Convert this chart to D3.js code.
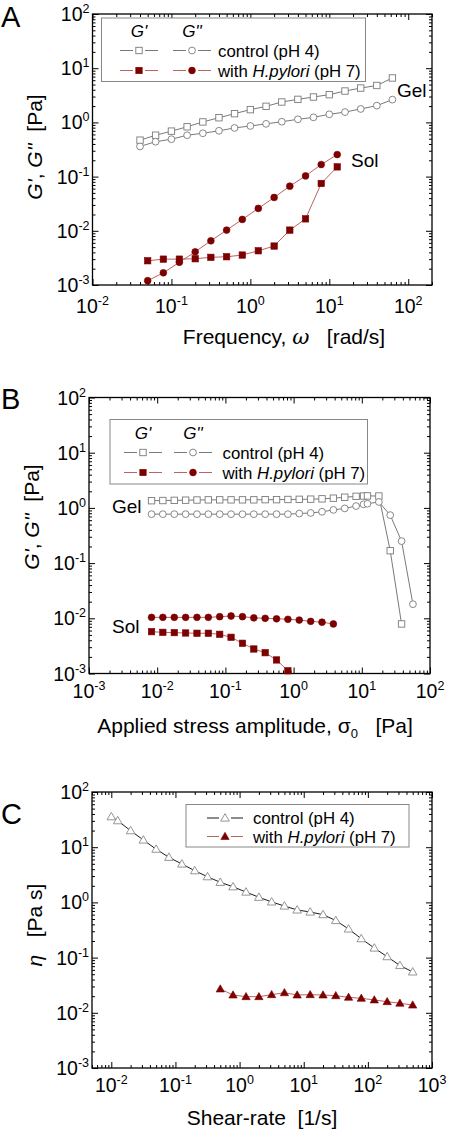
<!DOCTYPE html>
<html><head><meta charset="utf-8">
<script src="https://cdn.jsdelivr.net/npm/d3@7"></script>
<style>body{margin:0;background:#fff;} svg{display:block;font-family:"Liberation Sans",Arial,Helvetica,sans-serif;}</style>
</head><body><svg id="c" width="450" height="1134"></svg>
<script>
// ---------- Panel A data ----------
const A_ctrl_freq = [0.04,0.063,0.1,0.158,0.25,0.4,0.63,1,1.58,2.5,4,6.3,10,15.8,25,40,63];
const A_ctrl_G1 = [0.47,0.58,0.69,0.83,1.02,1.22,1.45,1.72,1.98,2.38,2.66,2.94,3.25,3.79,4.3,4.8,6.6];
const A_ctrl_G2 = [0.36,0.44,0.49,0.58,0.63,0.70,0.79,0.86,0.94,1.03,1.14,1.24,1.41,1.55,1.77,2.04,2.63];
const A_sol_freq = [0.05,0.079,0.126,0.2,0.316,0.5,0.79,1.26,2,3.16,5,7.9,12.6];
const A_sol_G1 = [0.0028,0.0030,0.0030,0.00305,0.00324,0.00332,0.00357,0.00428,0.00523,0.0103,0.0166,0.0747,0.151];
const A_sol_G2 = [0.0012,0.00168,0.00262,0.0041,0.00654,0.0103,0.0162,0.0259,0.0412,0.0666,0.103,0.167,0.255];
// ---------- Panel B data ----------
const B_stress = [0.00826,0.0121,0.0178,0.0261,0.0383,0.0562,0.0825,0.121,0.178,0.261,0.383,0.562,0.825,1.21,1.78,2.61,3.83,5.62,8.25,10.6,12.1,17.8,26.1,38.3,56.2];
const B_ctrl_G1 = [1.35,1.36,1.37,1.38,1.39,1.40,1.40,1.40,1.40,1.40,1.41,1.41,1.42,1.43,1.44,1.46,1.50,1.56,1.62,1.64,1.65,1.64,0.168,0.0079];
const B_ctrl_G2 = [0.77,0.77,0.77,0.77,0.77,0.77,0.77,0.77,0.77,0.77,0.77,0.77,0.77,0.79,0.81,0.85,0.92,0.98,1.08,1.16,1.19,1.28,0.74,0.25,0.018];
const B_sol_G1 = [0.00572,0.00557,0.0055,0.00542,0.00536,0.00536,0.00513,0.00453,0.00353,0.00278,0.00238,0.00176,0.00112];
const B_sol_G2 = [0.0104,0.0104,0.0104,0.0104,0.0104,0.0104,0.0107,0.0110,0.0107,0.0102,0.0100,0.0098,0.0096,0.0093,0.0088,0.0085,0.0079];
// ---------- Panel C data ----------
const C_ctrl_rate = [0.01,0.0126,0.02,0.0316,0.05,0.079,0.126,0.2,0.316,0.5,0.79,1.26,2,3.16,5,7.9,12.6,20,31.6,50,79,126,200,316,500];
const C_ctrl_eta = [35.7,30.2,19.9,13.5,9.2,6.56,4.96,3.75,2.92,2.31,1.92,1.54,1.24,1.02,0.86,0.73,0.67,0.60,0.47,0.33,0.22,0.149,0.104,0.072,0.055];
const C_sol_rate = [0.5,0.79,1.26,2,3.16,5,7.9,12.6,20,31.6,50,79,126,200,316,500];
const C_sol_eta = [0.027,0.021,0.0196,0.0196,0.0213,0.0231,0.021,0.0213,0.021,0.0204,0.0191,0.0183,0.0171,0.0159,0.0149,0.0138];

const legendNames = ["control (pH 4)", "with ", "H.pylori", " (pH 7)"];

const RED = "#7d0000", REDLINE = "#b4504f", GREY = "#7a7a7a", GREYLINE = "#6a6a6a";
const TITLE = 21, TICK = 19.5;
const svg = d3.select("#c");

function decades(dom){
  const out=[]; const lo=Math.floor(Math.log10(dom[0])-1e-9), hi=Math.ceil(Math.log10(dom[1])+1e-9);
  for(let e=lo;e<=hi;e++) for(let m=1;m<10;m++){const v=m*Math.pow(10,e); if(v>=dom[0]*0.9999&&v<=dom[1]*1.0001) out.push({v,m,e});}
  return out;
}

function marker(g, type, cx, cy, filled, col){
  const fill = filled ? col : "#fff";
  if(type==="sq") g.append("rect").attr("x",cx-3.2).attr("y",cy-3.2).attr("width",6.4).attr("height",6.4).attr("fill",fill).attr("stroke",col).attr("stroke-width",filled?0.6:0.9);
  else if(type==="ci") g.append("circle").attr("cx",cx).attr("cy",cy).attr("r",3.4).attr("fill",fill).attr("stroke",col).attr("stroke-width",filled?0.6:0.9);
  else if(type==="tri") g.append("path").attr("d",d3.symbol(d3.symbolTriangle,filled?30:32)()).attr("transform",`translate(${cx},${cy+0.6})`).attr("fill",fill).attr("stroke",col).attr("stroke-width",filled?0.6:0.9);
}

function series(g,x,y,xs,ys,type,filled,col,lineCol){
  const pts = ys.map((v,i)=>[x(xs[i]),y(v)]);
  g.append("path").attr("d",d3.line()(pts)).attr("fill","none").attr("stroke",lineCol).attr("stroke-width",0.9);
  pts.forEach(p=>marker(g,type,p[0],p[1],filled,col));
}

function panel(o){
  const g = svg.append("g");
  const x = d3.scaleLog().domain(o.xDom).range([o.left,o.right]);
  const y = d3.scaleLog().domain([1e-3,1e2]).range([o.bottom,o.top]);
  const xt = decades(o.xDom), yt = decades(y.domain());
  const xMaj = xt.filter(d=>d.m===1).map(d=>d.v), xMin = xt.filter(d=>d.m!==1).map(d=>d.v);
  const yMaj = yt.filter(d=>d.m===1).map(d=>d.v), yMin = yt.filter(d=>d.m!==1).map(d=>d.v);
  const ax = (fn,sc,vals,len,tr)=>{ g.append("g").attr("transform",tr).call(fn(sc).tickValues(vals).tickSize(-len).tickFormat("")).call(s=>{s.select(".domain").remove(); s.selectAll("line").attr("stroke","#000").attr("stroke-width",1);}); };
  ax(d3.axisBottom,x,xMaj,6,`translate(0,${o.bottom})`); ax(d3.axisBottom,x,xMin,3,`translate(0,${o.bottom})`);
  ax(d3.axisTop,x,xMaj,6,`translate(0,${o.top})`); ax(d3.axisTop,x,xMin,3,`translate(0,${o.top})`);
  ax(d3.axisLeft,y,yMaj,6,`translate(${o.left},0)`); ax(d3.axisLeft,y,yMin,3,`translate(${o.left},0)`);
  ax(d3.axisRight,y,yMaj,6,`translate(${o.right},0)`); ax(d3.axisRight,y,yMin,3,`translate(${o.right},0)`);
  g.append("rect").attr("x",o.left).attr("y",o.top).attr("width",o.right-o.left).attr("height",o.bottom-o.top).attr("fill","none").attr("stroke","#000").attr("stroke-width",1.3);
  const lab = (e,xx,yy,anchor)=>{ const tx=g.append("text").attr("x",xx).attr("y",yy).attr("text-anchor",anchor).attr("font-size",TICK).attr("fill","#000");
    tx.append("tspan").text("10"); tx.append("tspan").attr("dy",-8).attr("font-size",12.5).text(e); };
  xMaj.forEach(v=>lab(Math.round(Math.log10(v)),x(v),o.xLabY,"middle"));
  yMaj.forEach(v=>lab(Math.round(Math.log10(v)),o.left-3,y(v)+7,"end"));
  g.append("text").attr("x",1).attr("y",o.letterY).attr("font-size",29).text(o.letter);
  return {g,x,y};
}

function yTitleG(g,cx,cy){
  const t=g.append("text").attr("transform",`translate(${cx},${cy}) rotate(-90)`).attr("text-anchor","middle").attr("font-size",TITLE);
  t.append("tspan").attr("font-style","italic").text("G'");
  t.append("tspan").text(", ");
  t.append("tspan").attr("font-style","italic").text("G''");
  t.append("tspan").text("\u00a0\u00a0[Pa]");
}

function legendGG(g,lx,ly,w,h,hx1,hx2,r1,r2,tx){
  g.append("rect").attr("x",lx).attr("y",ly).attr("width",w).attr("height",h).attr("fill","#fff").attr("stroke","#888").attr("stroke-width",1);
  g.append("text").attr("x",hx1).attr("y",ly+19).attr("text-anchor","middle").attr("font-size",17).attr("font-style","italic").text("G'");
  g.append("text").attr("x",hx2).attr("y",ly+19).attr("text-anchor","middle").attr("font-size",17).attr("font-style","italic").text("G''");
  const item=(cx,cy,type,filled,col,lc)=>{
    g.append("line").attr("x1",cx-19).attr("x2",cx-6).attr("y1",cy).attr("y2",cy).attr("stroke",lc).attr("stroke-width",0.9);
    g.append("line").attr("x1",cx+6).attr("x2",cx+19).attr("y1",cy).attr("y2",cy).attr("stroke",lc).attr("stroke-width",0.9);
    marker(g,type,cx,cy,filled,col);
  };
  item(hx1,r1,"sq",false,GREY,GREYLINE); item(hx2,r1,"ci",false,GREY,GREYLINE);
  item(hx1,r2,"sq",true,RED,REDLINE); item(hx2,r2,"ci",true,RED,REDLINE);
  g.append("text").attr("x",tx).attr("y",r1+6).attr("font-size",16.8).text(legendNames[0]);
  const t2=g.append("text").attr("x",tx).attr("y",r2+6).attr("font-size",16.8);
  t2.append("tspan").text(legendNames[1]); t2.append("tspan").attr("font-style","italic").text(legendNames[2]); t2.append("tspan").text(legendNames[3]);
}

// ===== Panel A =====
{
  const {g,x,y} = panel({xDom:[0.01,200],left:92.5,right:432,top:14,bottom:285,xLabY:313,letter:"A",letterY:27});
  series(g,x,y,A_ctrl_freq,A_ctrl_G1,"sq",false,GREY,GREYLINE);
  series(g,x,y,A_ctrl_freq,A_ctrl_G2,"ci",false,GREY,GREYLINE);
  series(g,x,y,A_sol_freq,A_sol_G1,"sq",true,RED,REDLINE);
  series(g,x,y,A_sol_freq,A_sol_G2,"ci",true,RED,REDLINE);
  legendGG(g,101.5,18,264,63.5,139,192,50.5,70.5,218);
  g.append("text").attr("x",397).attr("y",97).attr("font-size",19).text("Gel");
  g.append("text").attr("x",351).attr("y",167).attr("font-size",19).text("Sol");
  yTitleG(g,42,147);
  const t=g.append("text").attr("x",284).attr("y",344).attr("text-anchor","middle").attr("font-size",TITLE);
  t.append("tspan").text("Frequency, "); t.append("tspan").attr("font-style","italic").attr("font-family","DejaVu Serif, serif").text("ω"); t.append("tspan").text("\u00a0\u00a0\u00a0[rad/s]");
}
// ===== Panel B =====
{
  const {g,x,y} = panel({xDom:[0.001,100],left:89,right:430,top:397.5,bottom:673.5,xLabY:698,letter:"B",letterY:409});
  series(g,x,y,B_stress,B_ctrl_G1,"sq",false,GREY,GREYLINE);
  series(g,x,y,B_stress,B_ctrl_G2,"ci",false,GREY,GREYLINE);
  series(g,x,y,B_stress,B_sol_G1,"sq",true,RED,REDLINE);
  series(g,x,y,B_stress,B_sol_G2,"ci",true,RED,REDLINE);
  legendGG(g,110,419.5,257.5,64.5,143,193,452.5,472.5,222.5);
  g.append("text").attr("x",112).attr("y",513).attr("font-size",19).text("Gel");
  g.append("text").attr("x",112).attr("y",633).attr("font-size",19).text("Sol");
  yTitleG(g,39,517);
  const t=g.append("text").attr("x",255).attr("y",733).attr("text-anchor","middle").attr("font-size",TITLE);
  t.append("tspan").text("Applied stress amplitude, σ"); t.append("tspan").attr("font-size",13).attr("dy",5).text("0"); t.append("tspan").attr("dy",-5).text("\u00a0\u00a0\u00a0[Pa]");
}
// ===== Panel C =====
{
  const {g,x,y} = panel({xDom:[0.005,1000],left:92,right:432,top:792,bottom:1068,xLabY:1092,letter:"C",letterY:824});
  series(g,x,y,C_ctrl_rate,C_ctrl_eta,"tri",false,"#8a8a8a","#000");
  series(g,x,y,C_sol_rate,C_sol_eta,"tri",true,RED,REDLINE);
  g.append("rect").attr("x",186).attr("y",804.5).attr("width",223).attr("height",42.5).attr("fill","#fff").attr("stroke","#888");
  const item=(cx,cy,filled,col,lc)=>{
    g.append("line").attr("x1",cx-18).attr("x2",cx-6).attr("y1",cy).attr("y2",cy).attr("stroke",lc).attr("stroke-width",0.9);
    g.append("line").attr("x1",cx+6).attr("x2",cx+18).attr("y1",cy).attr("y2",cy).attr("stroke",lc).attr("stroke-width",0.9);
    marker(g,"tri",cx,cy,filled,col);
  };
  item(225,818,false,"#8a8a8a","#000"); item(225,836.5,true,RED,REDLINE);
  g.append("text").attr("x",253).attr("y",824).attr("font-size",16.8).text(legendNames[0]);
  const t2=g.append("text").attr("x",253).attr("y",842.5).attr("font-size",16.8);
  t2.append("tspan").text(legendNames[1]); t2.append("tspan").attr("font-style","italic").text(legendNames[2]); t2.append("tspan").text(legendNames[3]);
  const yt=g.append("text").attr("transform","translate(42,925) rotate(-90)").attr("text-anchor","middle").attr("font-size",TITLE);
  yt.append("tspan").attr("font-style","italic").text("η"); yt.append("tspan").text("\u00a0\u00a0\u00a0[Pa s]");
  g.append("text").attr("x",262).attr("y",1125).attr("text-anchor","middle").attr("font-size",TITLE).text("Shear-rate\u00a0\u00a0[1/s]");
}
</script></body></html>
